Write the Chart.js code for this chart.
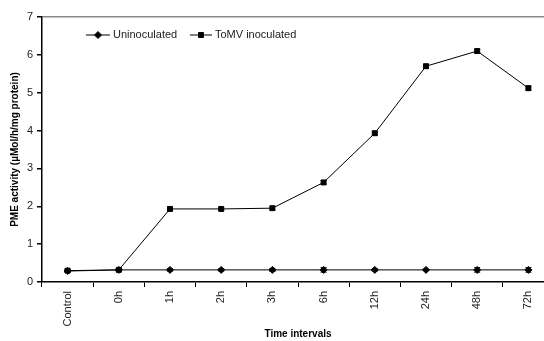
<!doctype html>
<html lang="en">
<head>
<meta charset="utf-8">
<title>PME activity</title>
<style>
  *{margin:0;padding:0;box-sizing:border-box;}
  html,body{width:544px;height:341px;overflow:hidden;background:#fff;}
  canvas{display:block;}
</style>
</head>
<body>
<canvas id="myChart" width="560" height="341"></canvas>
<script src="https://cdn.jsdelivr.net/npm/chart.js@4/dist/chart.umd.min.js"></script>
<script>
const timeLabels = ['Control','0h','1h','2h','3h','6h','12h','24h','48h','72h'];
const uninoculated = [0.29,0.32,0.32,0.32,0.32,0.32,0.32,0.32,0.32,0.32];
const uninoculatedErr = [0.03,0.03,0.03,0.03,0.04,0.06,0.03,0.02,0.06,0.06];
const tomv = [0.30,0.32,1.93,1.93,1.95,2.63,3.93,5.70,6.10,5.12];
const tomvErr = [0.03,0.03,0.05,0.03,0.04,0.05,0.05,0.05,0.05,0.05];
const yTicks = [0,1,2,3,4,5,6,7];

// error bars drawn through the scales
const errorBars = {
  id:'errorBars',
  afterDatasetsDraw(chart){
    const c = chart.ctx, xs = chart.scales.x, ys = chart.scales.y;
    c.save();
    c.strokeStyle = '#000';
    c.lineWidth = 1;
    chart.data.datasets.forEach(ds => {
      ds.data.forEach((v,i) => {
        const x = xs.getPixelForValue(i);
        const y1 = ys.getPixelForValue(v + ds.err[i]);
        const y2 = ys.getPixelForValue(v - ds.err[i]);
        c.beginPath();
        c.moveTo(x, y1); c.lineTo(x, y2);
        c.moveTo(x-3, y1); c.lineTo(x+3, y1);
        c.moveTo(x-3, y2); c.lineTo(x+3, y2);
        c.stroke();
      });
    });
    c.restore();
  }
};

// legend inside the plot, top left
const innerLegend = {
  id:'innerLegend',
  afterDraw(chart){
    const c = chart.ctx;
    const items = [
      {text:'Uninoculated', x0:86, x1:110, style:'rectRot'},
      {text:'ToMV inoculated', x0:190, x1:212, style:'rect'}
    ];
    const y = 35;
    c.save();
    c.font = '11px "Liberation Sans", Arial, sans-serif';
    c.textBaseline = 'middle';
    items.forEach(it => {
      c.strokeStyle = '#000';
      c.fillStyle = '#000';
      c.lineWidth = 1;
      c.beginPath(); c.moveTo(it.x0, y); c.lineTo(it.x1, y); c.stroke();
      const mx = (it.x0 + it.x1) / 2;
      Chart.helpers.drawPoint(c, {pointStyle: it.style, radius: 3.5, borderWidth: 1}, mx, y);
      c.fillStyle = '#222';
      c.fillText(it.text, it.x1 + 3, y);
    });
    c.restore();
  }
};

const ctx = document.getElementById('myChart').getContext('2d');
const myChart = new Chart(ctx, {
  type: 'line',
  data: {
    labels: timeLabels,
    datasets: [{
      label: 'Uninoculated',
      data: uninoculated,
      err: uninoculatedErr,
      borderColor: '#000',
      backgroundColor: '#000',
      borderWidth: 1,
      pointStyle: 'rectRot',
      pointRadius: 3.5,
      pointBorderWidth: 1
    },{
      label: 'ToMV inoculated',
      data: tomv,
      err: tomvErr,
      borderColor: '#000',
      backgroundColor: '#000',
      borderWidth: 1,
      pointStyle: 'rect',
      pointRadius: 3.5,
      pointBorderWidth: 1
    }]
  },
  options: {
    responsive: false,
    animation: false,
    maintainAspectRatio: false,
    layout: {padding: {top: 17, right: 6, left: 0, bottom: 0}},
    plugins: {legend: {display: false}, tooltip: {enabled: false}},
    scales: {
      x: {
        offset: true,
        grid: {display: true, offset: true, drawOnChartArea: false, tickColor: '#000', tickLength: 5},
        border: {color: '#000', width: 1.5},
        ticks: {minRotation: 90, maxRotation: 90, color: '#222', padding: 4,
                font: {family: '"Liberation Sans", Arial, sans-serif', size: 11}},
        title: {display: true, text: 'Time intervals', color: '#000', padding: {top: 0, bottom: 1},
                font: {family: '"Liberation Sans", Arial, sans-serif', size: 10, weight: 'bold'}},
        afterFit: s => { s.height = 59; }
      },
      y: {
        min: 0, max: 7,
        afterBuildTicks: s => { s.ticks = yTicks.map(v => ({value: v})); },
        grid: {
          color: c => c.tick && c.tick.value === 7 ? '#888' : 'rgba(0,0,0,0)',
          lineWidth: 1.5,
          tickColor: '#000', tickLength: 5
        },
        border: {color: '#000', width: 1.5},
        ticks: {color: '#222', padding: 4,
                font: {family: '"Liberation Sans", Arial, sans-serif', size: 11}},
        title: {display: true, text: 'PME activity (µMol/h/mg protein)', color: '#000', padding: {top: 9, bottom: 0},
                font: {family: '"Liberation Sans", Arial, sans-serif', size: 10, weight: 'bold'}},
        afterFit: s => { s.width = 42; }
      }
    }
  },
  plugins: [errorBars, innerLegend]
});
</script>
</body>
</html>
